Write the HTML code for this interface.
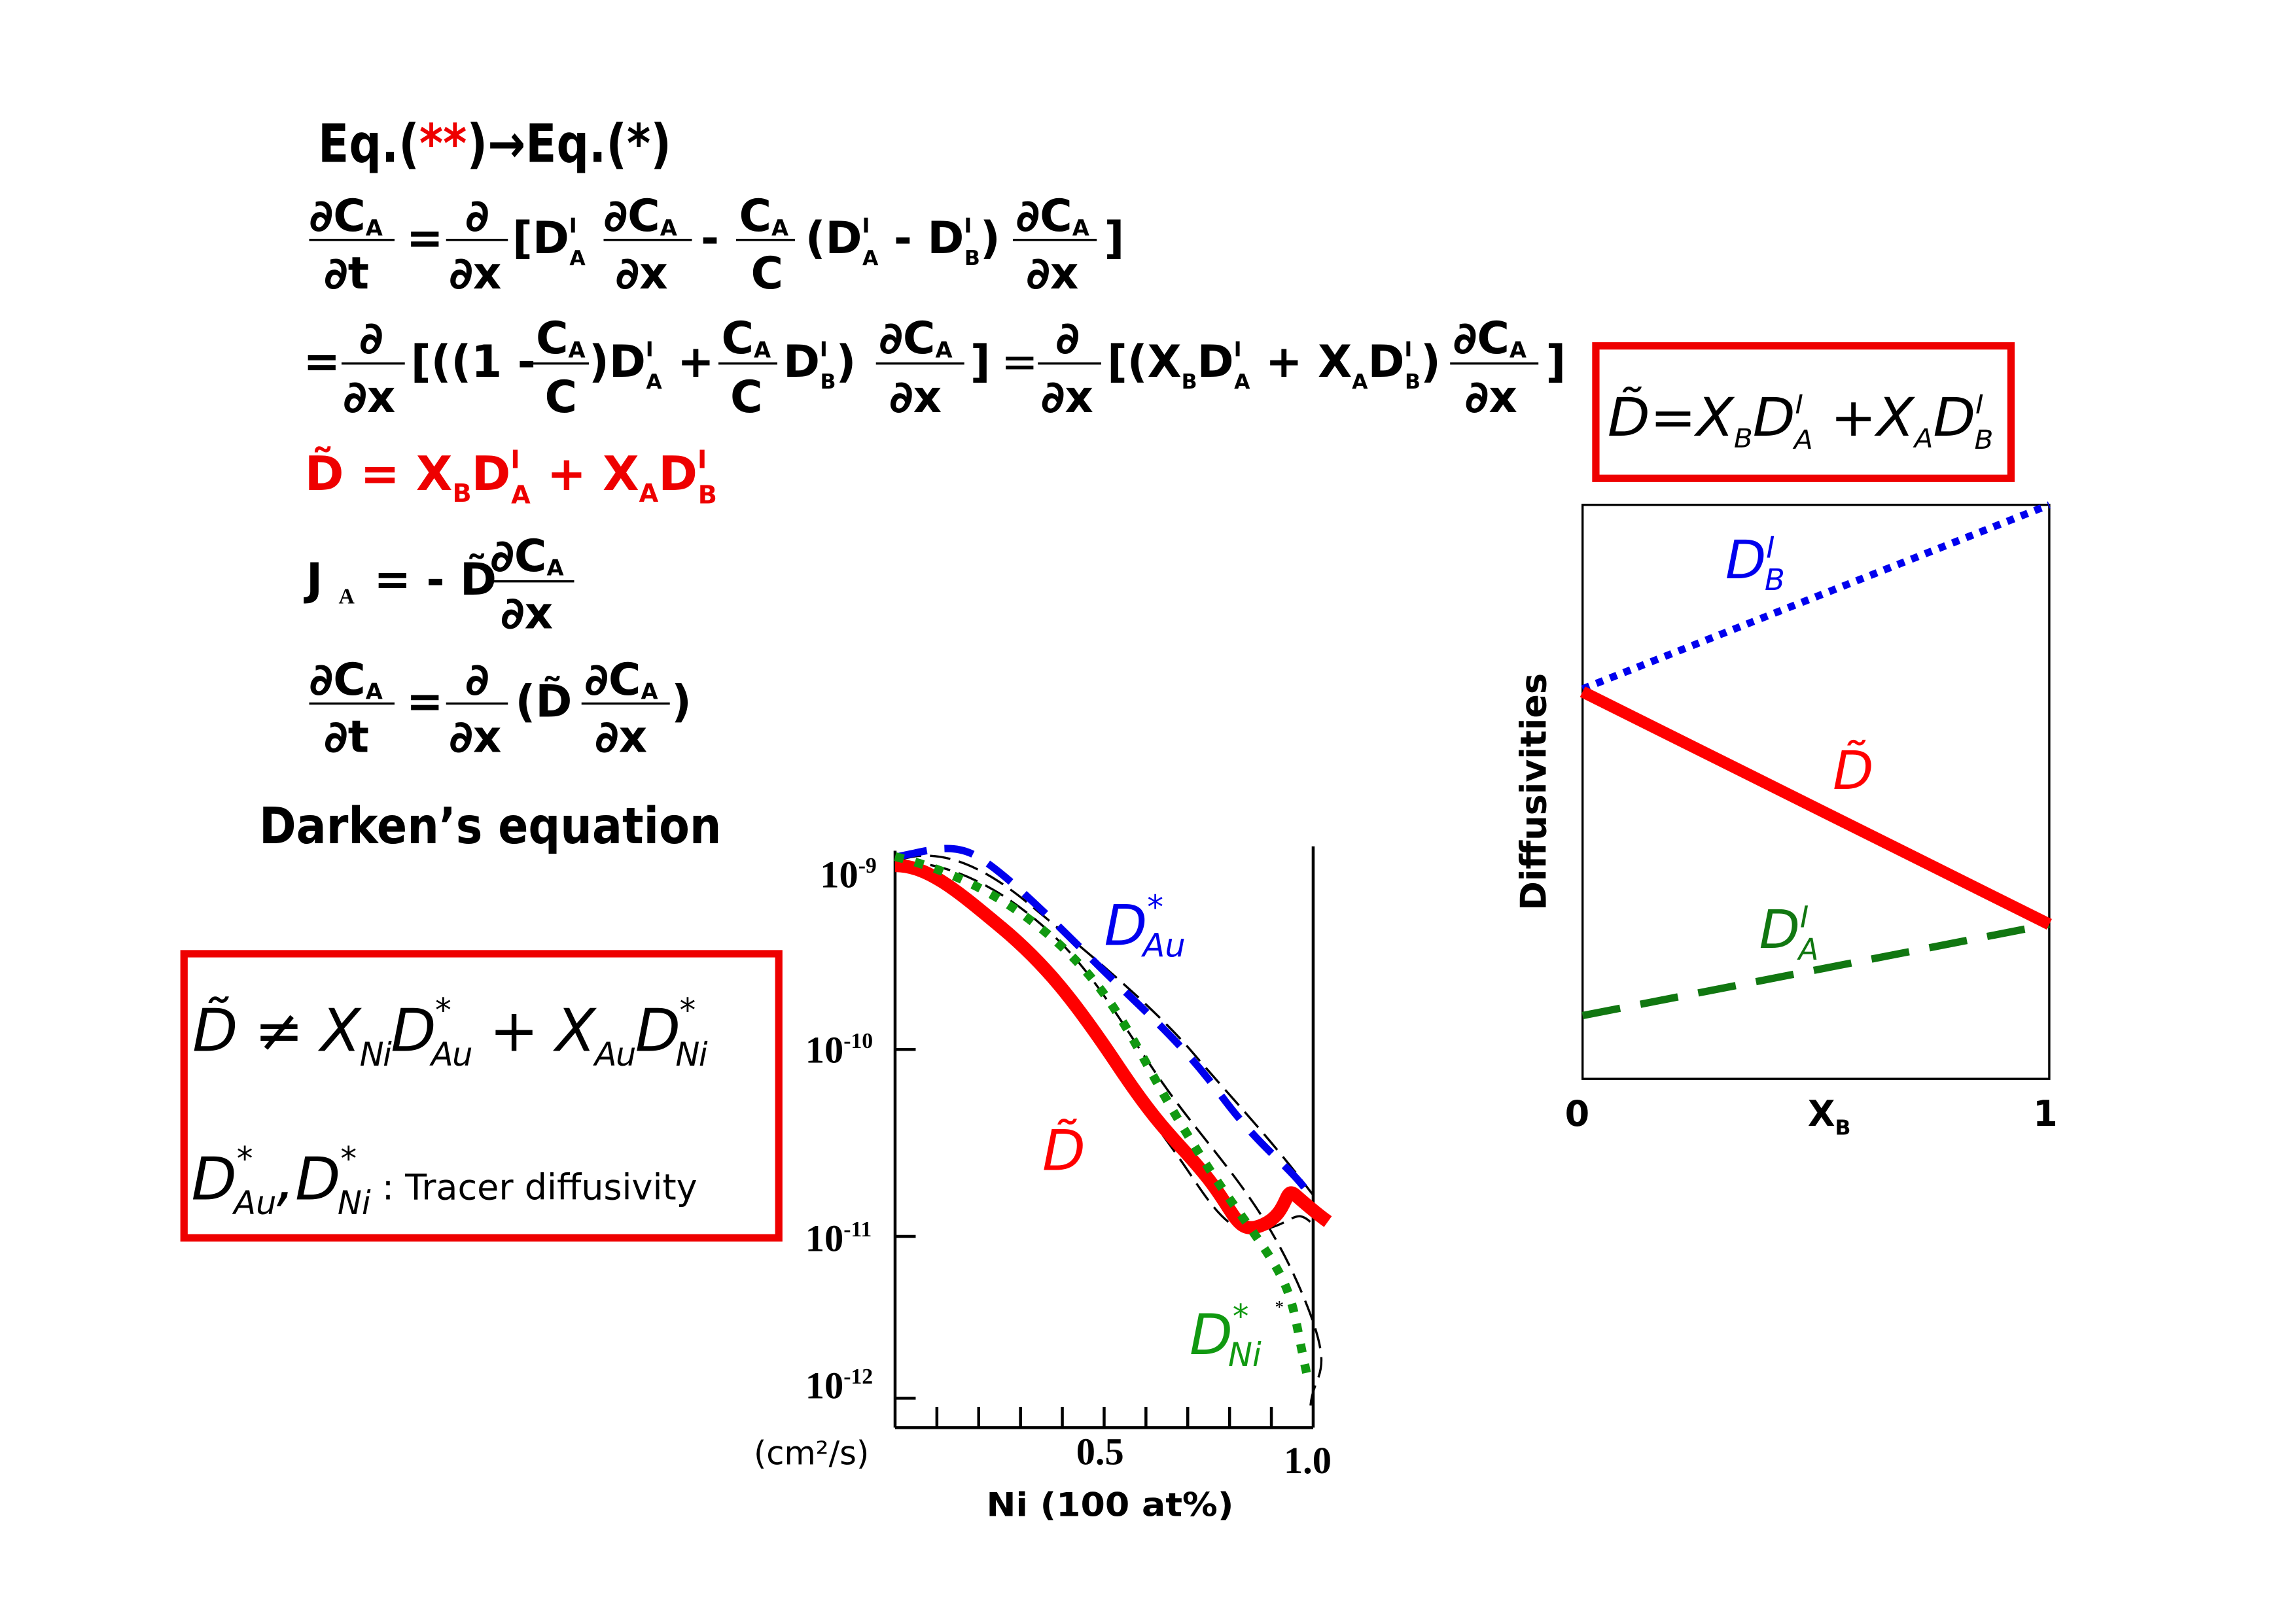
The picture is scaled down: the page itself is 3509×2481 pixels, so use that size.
<!DOCTYPE html>
<html><head><meta charset="utf-8"><style>
html,body{margin:0;padding:0;background:#fff;}
svg{display:block;}
.b{font-family:"DejaVu Sans","Liberation Sans",sans-serif;font-weight:bold;}
.i{font-family:"DejaVu Sans","Liberation Sans",sans-serif;font-style:italic;}
.s{font-family:"Liberation Serif",serif;font-weight:bold;}
</style></head><body>
<svg width="3509" height="2481" viewBox="0 0 1559.6 1102.7" xmlns="http://www.w3.org/2000/svg">
<rect width="1559.6" height="1102.7" fill="#fff"/>
<g class="b" fill="#000">
<text x="216" y="110" font-size="36" textLength="240" lengthAdjust="spacingAndGlyphs">Eq.(<tspan fill="#e00">**</tspan>)→Eq.(*)</text>
<g font-size="30">
<text x="210" y="157">∂C<tspan font-size="15" dy="3">A</tspan></text><line x1="210" y1="163" x2="268" y2="163" stroke="#000" stroke-width="1.5"/><text x="220" y="196">∂t</text>
<text x="276" y="172">=</text>
<text x="316" y="157">∂</text><line x1="303" y1="163" x2="345" y2="163" stroke="#000" stroke-width="1.5"/><text x="305" y="196">∂x</text>
<text x="348" y="172">[D<tspan font-size="14" dy="-14">I</tspan><tspan font-size="14" dx="-5" dy="22">A</tspan></text>
<text x="410" y="157">∂C<tspan font-size="15" dy="3">A</tspan></text><line x1="410" y1="163" x2="470" y2="163" stroke="#000" stroke-width="1.5"/><text x="418" y="196">∂x</text>
<text x="476" y="172">-</text>
<text x="502" y="157">C<tspan font-size="15" dy="3">A</tspan></text><line x1="500" y1="163" x2="540" y2="163" stroke="#000" stroke-width="1.5"/><text x="510" y="196">C</text>
<text x="547" y="172">(D<tspan font-size="14" dy="-14">I</tspan><tspan font-size="14" dx="-5" dy="22">A</tspan><tspan dy="-8"> - D</tspan><tspan font-size="14" dy="-14">I</tspan><tspan font-size="14" dx="-5" dy="22">B</tspan><tspan dy="-8">)</tspan></text>
<text x="690" y="157">∂C<tspan font-size="15" dy="3">A</tspan></text><line x1="688" y1="163" x2="745" y2="163" stroke="#000" stroke-width="1.5"/><text x="697" y="196">∂x</text>
<text x="750" y="172">]</text>
</g>
<g font-size="30">
<text x="206" y="256">=</text>
<text x="244" y="240">∂</text><line x1="232" y1="247" x2="275" y2="247" stroke="#000" stroke-width="1.5"/><text x="233" y="280">∂x</text>
<text x="279" y="256">[((1 -</text>
<text x="364" y="240">C<tspan font-size="15" dy="3">A</tspan></text><line x1="362" y1="247" x2="400" y2="247" stroke="#000" stroke-width="1.5"/><text x="370" y="280">C</text>
<text x="400" y="256">)D<tspan font-size="14" dy="-14">I</tspan><tspan font-size="14" dx="-5" dy="22">A</tspan><tspan dy="-8"> +</tspan></text>
<text x="490" y="240">C<tspan font-size="15" dy="3">A</tspan></text><line x1="488" y1="247" x2="528" y2="247" stroke="#000" stroke-width="1.5"/><text x="496" y="280">C</text>
<text x="532" y="256">D<tspan font-size="14" dy="-14">I</tspan><tspan font-size="14" dx="-5" dy="22">B</tspan><tspan dy="-8">)</tspan></text>
<text x="597" y="240">∂C<tspan font-size="15" dy="3">A</tspan></text><line x1="595" y1="247" x2="655" y2="247" stroke="#000" stroke-width="1.5"/><text x="604" y="280">∂x</text>
<text x="659" y="256">]</text>
<text x="680" y="256" font-weight="normal">=</text>
<text x="717" y="240">∂</text><line x1="705" y1="247" x2="748" y2="247" stroke="#000" stroke-width="1.5"/><text x="707" y="280">∂x</text>
<text x="752" y="256">[(X<tspan font-size="14" dy="8">B</tspan><tspan dy="-8">D</tspan><tspan font-size="14" dy="-14">I</tspan><tspan font-size="14" dx="-5" dy="22">A</tspan><tspan dy="-8"> + X</tspan><tspan font-size="14" dy="8">A</tspan><tspan dy="-8">D</tspan><tspan font-size="14" dy="-14">I</tspan><tspan font-size="14" dx="-5" dy="22">B</tspan><tspan dy="-8">)</tspan></text>
<text x="987" y="240">∂C<tspan font-size="15" dy="3">A</tspan></text><line x1="985" y1="247" x2="1045" y2="247" stroke="#000" stroke-width="1.5"/><text x="995" y="280">∂x</text>
<text x="1050" y="256">]</text>
</g>
<text x="207" y="333" font-size="32" fill="#e00">D̃ = X<tspan font-size="17" dy="8">B</tspan><tspan dy="-8">D</tspan><tspan font-size="17" dy="-15">I</tspan><tspan font-size="17" dx="-6" dy="24">A</tspan><tspan dy="-9"> + X</tspan><tspan font-size="17" dy="8">A</tspan><tspan dy="-8">D</tspan><tspan font-size="17" dy="-15">I</tspan><tspan font-size="17" dx="-6" dy="24">B</tspan></text>
<g font-size="30">
<text x="208" y="404">J</text><text x="230" y="410" font-size="15" class="s" font-weight="normal">A</text>
<text x="254" y="404">= - D̃</text>
<text x="333" y="388">∂C<tspan font-size="15" dy="3">A</tspan></text><line x1="330" y1="395" x2="390" y2="395" stroke="#000" stroke-width="1.5"/><text x="340" y="427">∂x</text>
</g>
<g font-size="30">
<text x="210" y="472">∂C<tspan font-size="15" dy="3">A</tspan></text><line x1="210" y1="478" x2="268" y2="478" stroke="#000" stroke-width="1.5"/><text x="220" y="511">∂t</text>
<text x="276" y="487">=</text>
<text x="316" y="472">∂</text><line x1="303" y1="478" x2="345" y2="478" stroke="#000" stroke-width="1.5"/><text x="305" y="511">∂x</text>
<text x="350" y="487">(D̃</text>
<text x="397" y="472">∂C<tspan font-size="15" dy="3">A</tspan></text><line x1="395" y1="478" x2="455" y2="478" stroke="#000" stroke-width="1.5"/><text x="404" y="511">∂x</text>
<text x="456" y="487">)</text>
</g>
<text x="176" y="573" font-size="34" textLength="314" lengthAdjust="spacingAndGlyphs">Darken’s equation</text>
</g>

<rect x="125" y="648" width="404" height="193" fill="none" stroke="#e00" stroke-width="5"/>
<g class="i" fill="#000">
<text x="130" y="714" font-size="40" textLength="350" lengthAdjust="spacing">D̃ ≠ X<tspan font-size="22" dy="10">Ni</tspan><tspan dy="-10">D</tspan><tspan font-size="22" dy="-20">*</tspan><tspan font-size="22" dx="-13" dy="30">Au</tspan><tspan dy="-10"> + X</tspan><tspan font-size="22" dy="10">Au</tspan><tspan dy="-10">D</tspan><tspan font-size="22" dy="-20">*</tspan><tspan font-size="22" dx="-13" dy="30">Ni</tspan></text>
<text x="130" y="815" font-size="40">D<tspan font-size="22" dy="-20">*</tspan><tspan font-size="22" dx="-13" dy="30">Au</tspan><tspan dy="-10">,D</tspan><tspan font-size="22" dy="-20">*</tspan><tspan font-size="22" dx="-13" dy="30">Ni</tspan><tspan dy="-10" font-size="24" font-style="normal"> : Tracer diffusivity</tspan></text>
</g>

<g stroke="#000" stroke-width="2" fill="none">
<line x1="608" y1="578" x2="608" y2="970"/>
<line x1="892" y1="575" x2="892" y2="970"/>
<line x1="608" y1="970" x2="892" y2="970"/>
<line x1="608" y1="713" x2="622" y2="713"/>
<line x1="608" y1="840" x2="622" y2="840"/>
<line x1="608" y1="950" x2="622" y2="950"/>
<path d="M636.4 970v-14M664.8 970v-14M693.2 970v-14M721.6 970v-14M750 970v-14M778.4 970v-14M806.8 970v-14M835.2 970v-14M863.6 970v-14"/>
</g>
<g class="s" fill="#000" font-size="26">
<text x="557" y="603">10<tspan font-size="15" dy="-10">-9</tspan></text>
<text x="547" y="722">10<tspan font-size="15" dy="-10">-10</tspan></text>
<text x="547" y="850">10<tspan font-size="15" dy="-10">-11</tspan></text>
<text x="547" y="950">10<tspan font-size="15" dy="-10">-12</tspan></text>
<text x="731" y="995">0.5</text>
<text x="872" y="1001">1.0</text>
</g>
<text x="512" y="995" font-size="22" font-family="DejaVu Sans,sans-serif">(cm²/s)</text>
<text x="670" y="1030" font-size="22" class="b" textLength="168" lengthAdjust="spacingAndGlyphs">Ni (100 at%)</text>
<g fill="none" stroke="#000" stroke-width="1.5" stroke-dasharray="14 6">
<path d="M612 584 C640 575 670 590 700 615 S780 680 810 715 S860 770 892 812"/>
<path d="M612 586 C650 585 690 610 720 640 S770 710 800 750 S860 820 885 880 S890 930 890 960"/>
<path d="M612 590 C660 600 700 640 740 700 S790 770 810 800 S840 840 860 835 S880 820 892 832"/>
</g>
<path d="M608 588 C630 588 650 605 680 630 S730 680 760 725 S800 775 820 800 S840 840 858 832 S872 805 880 812 S895 825 902 830" fill="none" stroke="#f00" stroke-width="9"/>
<path d="M610 582 C630 578 645 573 660 580 S700 610 740 650 S800 705 830 745 S875 790 892 815" fill="none" stroke="#0000ee" stroke-width="5" stroke-dasharray="20 12"/>
<path d="M608 582 C640 590 680 605 720 642 S770 710 800 760 S840 820 860 850 S878 890 888 935" fill="none" stroke="#119911" stroke-width="6" stroke-dasharray="6 8"/>
<g class="i" font-size="38">
<text x="750" y="642" fill="#0000ee">D<tspan font-size="22" dy="-18">*</tspan><tspan font-size="22" dx="-14" dy="26">Au</tspan></text>
<text x="708" y="795" fill="#f00">D̃</text>
<text x="808" y="920" fill="#119911">D<tspan font-size="22" dy="-18">*</tspan><tspan font-size="22" dx="-14" dy="26">Ni</tspan></text>
</g>
<text x="866" y="892" font-size="12">*</text>

<rect x="1084" y="235" width="282" height="90" fill="none" stroke="#e00" stroke-width="5"/>
<text x="1092" y="296" class="i" font-size="36" textLength="262" lengthAdjust="spacingAndGlyphs">D̃=X<tspan font-size="18" dy="8">B</tspan><tspan dy="-8">D</tspan><tspan font-size="18" dy="-15">I</tspan><tspan font-size="18" dx="-6" dy="24">A</tspan><tspan dy="-9" font-style="normal"> +</tspan><tspan>X</tspan><tspan font-size="18" dy="8">A</tspan><tspan dy="-8">D</tspan><tspan font-size="18" dy="-15">I</tspan><tspan font-size="18" dx="-6" dy="24">B</tspan></text>

<rect x="1075" y="343" width="317" height="390" fill="none" stroke="#000" stroke-width="1.5"/>
<line x1="1075" y1="468" x2="1392" y2="343" stroke="#0000ee" stroke-width="5" stroke-dasharray="5 5"/>
<line x1="1075" y1="690" x2="1392" y2="628" stroke="#117711" stroke-width="5" stroke-dasharray="26 14"/>
<line x1="1075" y1="470" x2="1392" y2="628" stroke="#f00" stroke-width="8"/>
<g class="i" font-size="36">
<text x="1172" y="393" fill="#0000ee">D<tspan font-size="20" dy="-14">I</tspan><tspan font-size="20" dx="-7" dy="22">B</tspan></text>
<text x="1245" y="536" fill="#f00">D̃</text>
<text x="1195" y="644" fill="#117711">D<tspan font-size="20" dy="-14">I</tspan><tspan font-size="20" dx="-7" dy="22">A</tspan></text>
</g>
<text transform="translate(1050 538) rotate(-90)" text-anchor="middle" class="b" font-size="24">Diffusivities</text>
<g class="b" font-size="24">
<text x="1063" y="765">0</text>
<text x="1228" y="765">X<tspan font-size="14" dy="6">B</tspan></text>
<text x="1381" y="765">1</text>
</g>
</svg>
</body></html>
